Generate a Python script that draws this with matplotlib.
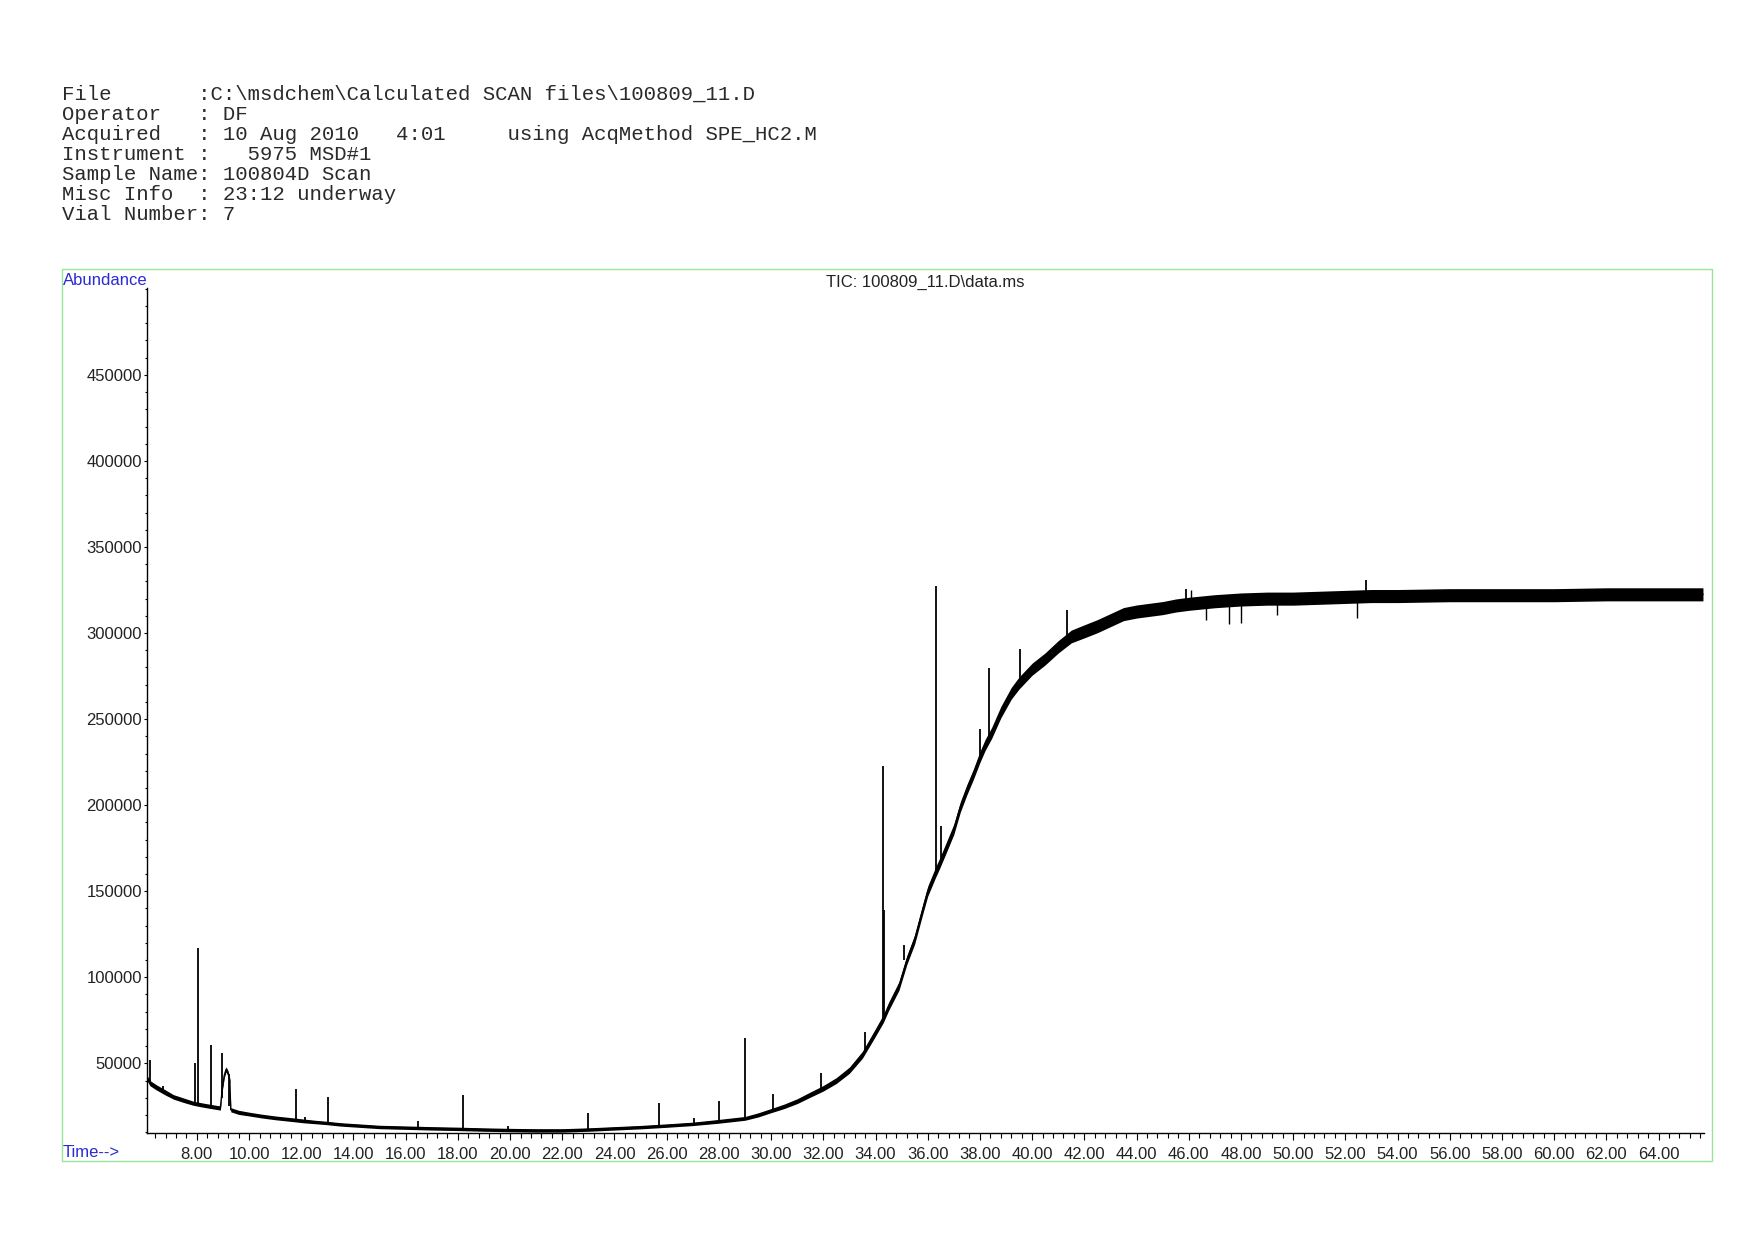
import matplotlib.pyplot as plt
from matplotlib.ticker import MultipleLocator, FixedLocator, FormatStrFormatter
from matplotlib.patches import Rectangle
import numpy as np

# header block (ChemStation style)
header_lines = [
    "File       :C:\\msdchem\\Calculated SCAN files\\100809_11.D",
    "Operator   : DF",
    "Acquired   : 10 Aug 2010   4:01     using AcqMethod SPE_HC2.M",
    "Instrument :   5975 MSD#1",
    "Sample Name: 100804D Scan",
    "Misc Info  : 23:12 underway",
    "Vial Number: 7",
]
plot_title = "TIC: 100809_11.D\\data.ms"
y_labels = [50000, 100000, 150000, 200000, 250000, 300000, 350000, 400000, 450000]

# baseline of the TIC trace (minutes, abundance, noise half-width)
base_t = [6.09, 6.2, 6.45, 6.8, 7.1, 7.5, 7.86, 8.2, 8.5, 8.9, 8.98, 9.05, 9.12, 9.2,
          9.26, 9.3, 9.6, 10.0, 10.5, 11.0, 11.5, 12.1, 12.6, 13.0, 13.5, 14.0, 15.0,
          16.0, 17.0, 18.0, 19.0, 20.0, 21.0, 22.0, 23.0, 24.0, 25.0, 26.0, 27.0, 28.0,
          29.0, 29.5, 30.0, 30.5, 31.0, 31.5, 32.0, 32.5, 33.0, 33.5, 34.0, 34.3, 34.5,
          34.9, 35.2, 35.5, 35.8, 36.0, 36.3, 36.45, 36.7, 37.0, 37.25, 37.5, 37.75,
          38.0, 38.2, 38.45, 38.8, 39.2, 39.5, 40.0, 40.5, 41.0, 41.5, 42.0, 42.5, 43.0,
          43.5, 44.0, 44.5, 45.0, 45.5, 46.0, 47.0, 48.0, 49.0, 50.0, 51.0, 52.0, 53.0,
          54.0, 56.0, 58.0, 60.0, 62.0, 64.0, 65.7]
base_val = [41500, 38500, 36000, 33000, 30500, 28500, 26800, 25800, 25000, 24000, 36000,
            43000, 46500, 44000, 40000, 23000, 21500, 20500, 19300, 18300, 17500, 16500,
            15800, 15300, 14500, 14000, 13000, 12600, 12200, 11900, 11500, 11200, 11000,
            11000, 11500, 12200, 12900, 13800, 14800, 16300, 18000, 20000, 22500, 25000,
            28000, 31800, 35500, 40000, 46000, 55000, 68000, 76000, 83000, 95000, 110000,
            122000, 139000, 150000, 161000, 166000, 175000, 186000, 199000, 209000,
            218000, 228000, 235000, 242000, 254000, 265000, 271000, 279000, 285000,
            292000, 298000, 301000, 304000, 307500, 311000, 312500, 313500, 314500,
            316000, 317000, 318500, 319500, 320000, 320000, 320500, 321000, 321500,
            321500, 322000, 322000, 322000, 322500, 322500, 322500]
base_noise = [1500, 1500, 1500, 1500, 1300, 1300, 1200, 1200, 1200, 1200, 1500, 1500, 1500,
              1500, 1500, 1200, 1200, 1100, 1100, 1100, 1100, 1100, 1000, 1000, 1000, 1000,
              1000, 1000, 1000, 1000, 1000, 1000, 1000, 1000, 1000, 1000, 1000, 1000, 1000,
              1100, 1100, 1200, 1200, 1300, 1400, 1500, 1600, 1700, 1800, 2000, 2200, 2300,
              2400, 2500, 2600, 2700, 2800, 2900, 3000, 3000, 3000, 3000, 3000, 3000, 3000,
              3200, 3200, 3200, 3300, 3400, 3500, 3500, 3500, 3600, 3700, 3800, 3800, 3800,
              3800, 3800, 3800, 3800, 3800, 3800, 3800, 3800, 3800, 3800, 3800, 3800, 3800,
              3800, 3800, 3800, 3800, 3800, 3800, 3800]

# peaks: retention time, foot, apex
peak_t = [6.2, 6.71, 7.94, 8.03, 8.53, 8.97, 9.24, 11.78, 12.14, 13.02, 16.47, 18.2, 19.92,
          23.0, 25.7, 27.04, 28.01, 28.99, 30.06, 31.93, 33.58, 34.3, 34.34, 35.08, 36.33,
          36.52, 38.01, 38.33, 39.55, 41.35, 45.9, 52.8]
peak_foot = [39000, 33500, 27000, 26500, 25000, 30000, 25000, 17300, 16500, 15300, 12500,
             11800, 11200, 11500, 13500, 14800, 16300, 18000, 22800, 35000, 57000, 75000,
             77000, 110000, 162000, 166000, 228000, 240000, 272000, 297000, 317000, 321000]
peak_top = [52000, 36600, 50200, 117000, 60700, 56000, 43500, 35100, 19000, 30600, 16700,
            31800, 13800, 21300, 27100, 18400, 28300, 64800, 32200, 44400, 68400, 222500,
            139000, 118700, 327200, 187600, 244500, 279900, 290800, 313300, 325800, 330600]

# single-scan noise spikes sticking out of the band
spike_t = [40.33, 46.1, 46.65, 47.54, 48.0, 49.4, 52.45]
spike_lo = [279000, 317000, 307300, 305400, 306000, 310300, 309000]
spike_hi = [279000, 325000, 317000, 319000, 319500, 320000, 321000]

W, H = 1754, 1240
fig = plt.figure(figsize=(W / 100, H / 100), dpi=100)

for i, line in enumerate(header_lines):
    fig.text(62.5 / W, 1 - (99.5 + 20 * i) / H, line, family='Liberation Mono',
             fontsize=14.9, va='baseline', ha='left', color='#2a2a2a')

# green frame round the chart
fig.add_artist(Rectangle((62 / W, 1 - 1161 / H), (1712 - 62) / W, (1161 - 269) / H,
                         transform=fig.transFigure, fill=False, ec='#9be59b', lw=1.0))

ax = fig.add_axes([147 / W, 1 - 1133 / H, (1704 - 147) / W, (1133 - 288) / H])

bt = np.array(base_t)
bv = np.array(base_val)
bn = np.array(base_noise)
ax.fill_between(bt, bv - bn, bv + bn, color='black', lw=0)
ax.plot(bt, bv, color='black', lw=1.0)
ax.vlines(peak_t, peak_foot, peak_top, color='black', lw=1.3)
ax.vlines(spike_t, spike_lo, spike_hi, color='black', lw=1.0)

ax.set_xlim(6.09, 65.74)
ax.set_ylim(9500, 500500)

for s in ['top', 'right']:
    ax.spines[s].set_visible(False)
for s in ['left', 'bottom']:
    ax.spines[s].set_linewidth(1.0)

ax.xaxis.set_major_locator(MultipleLocator(2))
ax.xaxis.set_minor_locator(MultipleLocator(0.4))
ax.xaxis.set_major_formatter(FormatStrFormatter('%.2f'))
ax.yaxis.set_major_locator(FixedLocator(y_labels))
ax.yaxis.set_minor_locator(MultipleLocator(10000))
ax.yaxis.set_major_formatter(FormatStrFormatter('%d'))

ax.tick_params(axis='x', which='major', direction='out', length=5, width=0.8, pad=5.4,
               labelsize=12, labelcolor='#222222')
ax.tick_params(axis='x', which='minor', direction='out', length=3.3, width=0.8)
ax.tick_params(axis='y', which='major', direction='out', length=2.5, width=0.8, pad=1,
               labelsize=12, labelcolor='#222222')
ax.tick_params(axis='y', which='minor', direction='out', length=1.8, width=0.8)
for lab in ax.get_xticklabels() + ax.get_yticklabels():
    lab.set_family('Liberation Sans')

fig.text(63 / W, 1 - 285 / H, 'Abundance', color='#2a2ad8', fontsize=12,
         family='Liberation Sans', va='baseline', ha='left')
fig.text(63 / W, 1 - 1157 / H, 'Time-->', color='#2a2ad8', fontsize=12,
         family='Liberation Sans', va='baseline', ha='left')
fig.text(925 / W, 1 - 287 / H, plot_title, color='#222222', fontsize=12,
         family='Liberation Sans', va='baseline', ha='center')

fig.savefig('out.png', dpi=100, facecolor='white')
